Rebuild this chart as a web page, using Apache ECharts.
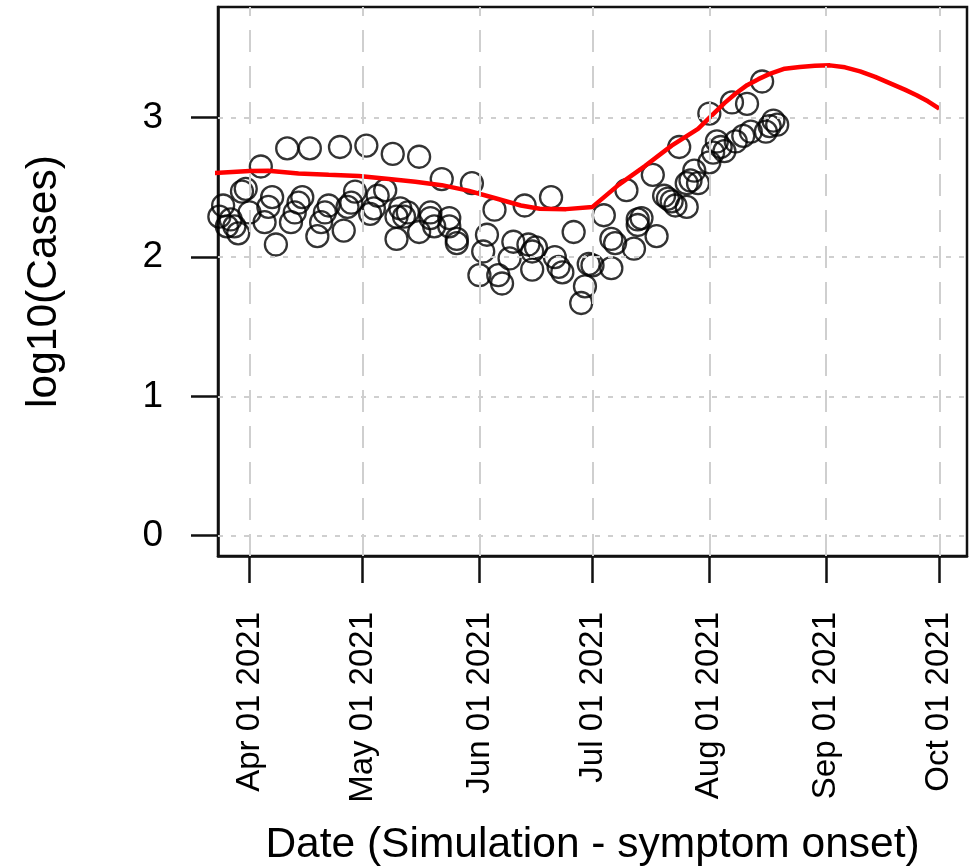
<!DOCTYPE html>
<html>
<head>
<meta charset="utf-8">
<script src="https://cdn.jsdelivr.net/npm/echarts@6/dist/echarts.min.js"></script>
<style>
html,body{margin:0;padding:0;background:#ffffff;}
#chart{width:969px;height:867px;}
</style>
</head>
<body>
<div id="chart"></div>
<script>
// ---------------- data ----------------
const pointDates = [
  '2021-03-24','2021-03-25','2021-03-26','2021-03-27','2021-03-28','2021-03-29','2021-03-30','2021-03-31',
  '2021-04-01','2021-04-04','2021-04-05','2021-04-06','2021-04-07','2021-04-08','2021-04-11','2021-04-12',
  '2021-04-13','2021-04-14','2021-04-15','2021-04-17','2021-04-19','2021-04-20','2021-04-21','2021-04-22',
  '2021-04-25','2021-04-26','2021-04-27','2021-04-28','2021-04-29','2021-05-02','2021-05-03','2021-05-04',
  '2021-05-05','2021-05-07','2021-05-09','2021-05-10','2021-05-10','2021-05-11','2021-05-12','2021-05-13',
  '2021-05-16','2021-05-16','2021-05-19','2021-05-19','2021-05-20','2021-05-22','2021-05-24','2021-05-24',
  '2021-05-26','2021-05-26','2021-05-30','2021-06-01','2021-06-02','2021-06-03','2021-06-05','2021-06-06',
  '2021-06-07','2021-06-09','2021-06-10','2021-06-13','2021-06-14','2021-06-15','2021-06-15','2021-06-16',
  '2021-06-20','2021-06-21','2021-06-22','2021-06-23','2021-06-26','2021-06-28','2021-06-29','2021-06-30',
  '2021-07-01','2021-07-04','2021-07-06','2021-07-06','2021-07-07','2021-07-10','2021-07-12','2021-07-13',
  '2021-07-13','2021-07-14','2021-07-17','2021-07-18','2021-07-20','2021-07-21','2021-07-22','2021-07-23',
  '2021-07-24','2021-07-26','2021-07-26','2021-07-27','2021-07-28','2021-07-29','2021-08-01','2021-08-01',
  '2021-08-02','2021-08-03','2021-08-04','2021-08-05','2021-08-07','2021-08-08','2021-08-10','2021-08-11',
  '2021-08-12','2021-08-15','2021-08-16','2021-08-17','2021-08-18','2021-08-19'
];
const pointLog10Cases = [
  2.29,2.37,2.22,2.27,2.22,2.17,2.47,2.49,
  2.32,2.65,2.25,2.36,2.43,2.09,2.78,2.25,
  2.32,2.39,2.43,2.78,2.15,2.25,2.32,2.37,
  2.79,2.19,2.36,2.39,2.47,2.80,2.31,2.35,
  2.44,2.48,2.74,2.13,2.29,2.35,2.29,2.32,
  2.72,2.18,2.32,2.28,2.22,2.56,2.28,2.22,
  2.13,2.10,2.53,1.87,2.04,2.16,2.34,1.87,
  1.81,1.99,2.11,2.37,2.09,2.04,1.91,2.07,
  2.43,2.00,1.93,1.89,2.18,1.67,1.79,1.95,
  1.94,2.30,1.92,2.13,2.10,2.48,2.06,2.27,
  2.23,2.28,2.59,2.15,2.44,2.42,2.40,2.37,
  2.79,2.53,2.36,2.55,2.62,2.53,3.03,2.68,
  2.75,2.83,2.79,2.76,3.11,2.83,2.87,3.10,
  2.90,3.26,2.90,2.94,2.98,2.95
];
const fitDates = [
  '2021-03-20','2021-04-01','2021-04-06','2021-04-14','2021-04-22','2021-04-30','2021-05-08','2021-05-15',
  '2021-05-22','2021-05-29','2021-06-05','2021-06-12','2021-06-17','2021-06-24','2021-07-01','2021-07-08',
  '2021-07-15','2021-07-22','2021-07-29','2021-08-05','2021-08-08','2021-08-11','2021-08-14','2021-08-17',
  '2021-08-21','2021-08-25','2021-08-29','2021-09-02','2021-09-06','2021-09-10','2021-09-14','2021-09-18',
  '2021-09-22','2021-09-25','2021-09-28','2021-10-01'
];
const fitLog10Cases = [
  2.60,2.617,2.62,2.60,2.59,2.581,2.561,2.541,
  2.516,2.477,2.424,2.37,2.347,2.344,2.36,2.52,
  2.655,2.80,2.92,3.105,3.174,3.234,3.277,3.315,
  3.352,3.365,3.374,3.376,3.362,3.333,3.293,3.247,
  3.20,3.162,3.118,3.065
];
const xTickDates = ['2021-04-01','2021-05-01','2021-06-01','2021-07-01','2021-08-01','2021-09-01','2021-10-01'];
const yTickValues = [0, 1, 2, 3];
const xDataRange = ['2021-03-31', '2021-10-01'];
const yDataRange = [0, 3.649];

// ---------------- helpers ----------------
const toTime = s => Date.parse(s + 'T00:00:00Z');
const MONTHS = ['Jan','Feb','Mar','Apr','May','Jun','Jul','Aug','Sep','Oct','Nov','Dec'];
function fmtDate(v) {
  const d = new Date(v);
  return MONTHS[d.getUTCMonth()] + ' ' + String(d.getUTCDate()).padStart(2, '0') + ' ' + d.getUTCFullYear();
}
const xLo = toTime(xDataRange[0]), xHi = toTime(xDataRange[1]);
const xPad = (xHi - xLo) * 0.04;
const yPad = (yDataRange[1] - yDataRange[0]) * 0.04;
const xTicks = xTickDates.map(toTime);

const FONT = 'Liberation Sans';
const chart = echarts.init(document.getElementById('chart'), null, { renderer: 'canvas' });

chart.setOption({
  animation: false,
  backgroundColor: '#ffffff',
  grid: {
    left: 218, right: 2, top: 7, bottom: 311,
    show: true, borderColor: '#111', borderWidth: 2.5, backgroundColor: 'transparent',
    containLabel: false, outerBoundsMode: 'none'
  },
  xAxis: {
    type: 'value',
    min: xLo - xPad, max: xHi + xPad,
    axisLine: { show: true, onZero: false, lineStyle: { color: '#111', width: 2.5 } },
    axisTick: { show: true, inside: false, length: 27, customValues: xTicks, lineStyle: { color: '#111', width: 2.5 } },
    axisLabel: {
      show: true, customValues: xTicks, rotate: 90, margin: 56,
      formatter: v => fmtDate(v),
      fontFamily: FONT, fontSize: 33, color: '#000'
    },
    splitLine: { show: false },
    name: 'Date (Simulation - symptom onset)',
    nameLocation: 'middle', nameGap: 268,
    nameTextStyle: { fontFamily: FONT, fontSize: 42.5, color: '#000' }
  },
  yAxis: {
    type: 'value',
    min: yDataRange[0] - yPad, max: yDataRange[1] + yPad,
    axisLine: { show: true, onZero: false, lineStyle: { color: '#111', width: 2.5 } },
    axisTick: { show: true, inside: false, length: 27, customValues: yTickValues, lineStyle: { color: '#111', width: 2.5 } },
    axisLabel: {
      show: true, customValues: yTickValues, margin: 55,
      fontFamily: FONT, fontSize: 37, color: '#000'
    },
    splitLine: { show: false },
    name: 'log10(Cases)',
    nameLocation: 'middle', nameRotate: 90, nameGap: 152,
    nameTextStyle: { fontFamily: FONT, fontSize: 42.5, color: '#000' }
  },
  series: [
    {
      type: 'scatter',
      name: 'cases',
      data: pointDates.map((d, i) => [toTime(d), pointLog10Cases[i]]),
      symbol: 'circle',
      symbolSize: 22,
      itemStyle: { color: 'rgba(0,0,0,0)', borderColor: '#000', borderWidth: 2.3 },
      silent: true,
      z: 3,
      markLine: {
        silent: true,
        symbol: ['none', 'none'],
        label: { show: false },
        animation: false,
        data: [
          ...xTicks.map(v => ({ xAxis: v, lineStyle: { color: '#cfcfcf', width: 2, type: [22, 14] } })),
          ...yTickValues.map(v => ({ yAxis: v, lineStyle: { color: '#cfcfcf', width: 2, type: [5, 8] } }))
        ]
      }
    },
    {
      type: 'line',
      name: 'fit',
      data: fitDates.map((d, i) => [toTime(d), fitLog10Cases[i]]),
      showSymbol: false,
      smooth: false,
      clip: true,
      lineStyle: { color: '#ff0000', width: 4.5 },
      silent: true,
      z: 4
    }
  ]
});
</script>
</body>
</html>
